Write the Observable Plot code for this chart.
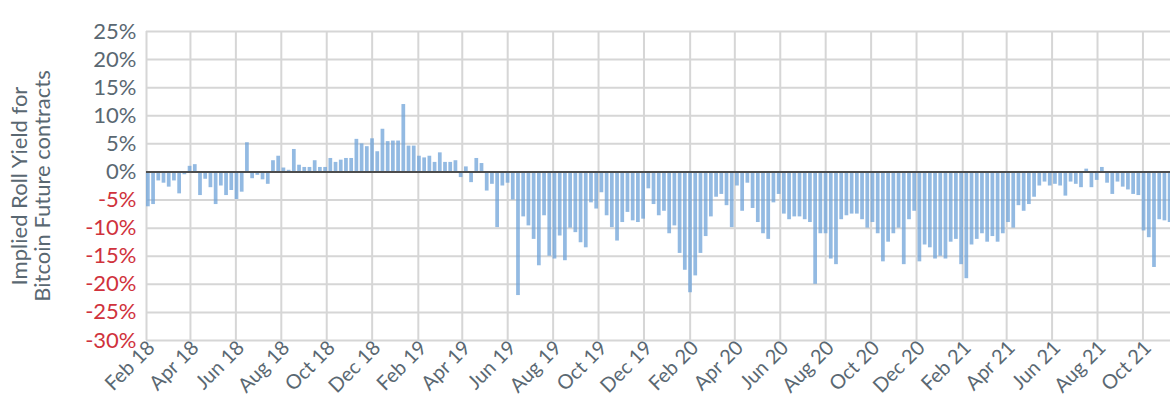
<!DOCTYPE html>
<html>
<head>
<meta charset="utf-8">
<script src="https://cdn.jsdelivr.net/npm/d3@7"></script>
<script src="https://cdn.jsdelivr.net/npm/@observablehq/plot@0.6"></script>
<style>
  html, body { margin: 0; padding: 0; background: #fff; }
  #chart { width: 1170px; height: 400px; }
</style>
</head>
<body>
<div id="chart"></div>
<script>
// Weekly implied roll yield (%), one value per week starting Thu 1 Feb 2018
const weekStart = "2018-02-01";
const weekEnd = "2021-11-05";
const rollYield = [
  -6.2, -5.8, -1.6, -2.0, -2.7, -1.6, -3.9, -0.5, 1.0, 1.3,
  -4.2, -1.3, -2.8, -5.8, -2.5, -4.2, -3.3, -4.9, -3.6, 5.2,
  -1.2, -0.6, -1.4, -2.2, 2.0, 2.8, 0.7, 0.3, 4.0, 1.2,
  0.8, 0.8, 2.0, 0.8, 0.8, 2.4, 1.7, 2.1, 2.4, 2.4,
  5.8, 5.0, 4.5, 5.9, 3.6, 7.6, 5.4, 5.5, 5.5, 12.0,
  4.6, 4.6, 2.8, 2.5, 2.8, 1.7, 3.4, 1.7, 1.7, 2.0,
  -1.0, 0.9, -1.9, 2.4, 1.5, -3.4, -2.2, -9.9, -2.5, -2.0,
  -5.0, -22.0, -8.0, -9.6, -12.0, -16.7, -7.8, -15.0, -15.5, -11.4,
  -15.8, -10.0, -10.8, -12.6, -13.5, -5.5, -6.6, -3.7, -7.8, -9.9,
  -12.3, -9.0, -7.2, -8.7, -9.0, -8.4, -3.0, -5.8, -7.8, -7.0,
  -11.0, -9.6, -14.5, -17.5, -21.5, -18.5, -14.5, -11.5, -8.0, -4.5,
  -4.0, -6.0, -9.9, -2.5, -7.0, -2.0, -6.5, -9.0, -11.0, -12.0,
  -5.5, -4.0, -7.5, -8.5, -8.0, -8.0, -8.5, -9.0, -20.0, -11.0,
  -11.0, -15.5, -16.5, -8.5, -7.8, -7.5, -7.5, -8.5, -10.0, -9.0,
  -11.0, -16.0, -12.5, -11.0, -10.0, -16.5, -8.5, -7.0, -16.0, -13.0,
  -13.5, -15.5, -15.0, -15.5, -12.5, -12.0, -16.5, -19.0, -13.0, -12.0,
  -11.0, -12.5, -11.5, -12.5, -11.0, -9.0, -10.0, -6.0, -7.0, -5.8,
  -4.5, -2.5, -1.8, -2.5, -2.2, -2.5, -4.3, -1.8, -2.2, -2.8,
  0.5, -2.8, -1.5, 0.8, -2.0, -4.0, -1.8, -2.7, -3.2, -4.0,
  -4.2, -10.5, -11.7, -17.0, -8.5, -8.7, -9.0
];

const xTickDates = [
  "2018-02-01","2018-04-01","2018-06-01","2018-08-01","2018-10-01","2018-12-01",
  "2019-02-01","2019-04-01","2019-06-01","2019-08-01","2019-10-01","2019-12-01",
  "2020-02-01","2020-04-01","2020-06-01","2020-08-01","2020-10-01","2020-12-01",
  "2021-02-01","2021-04-01","2021-06-01","2021-08-01","2021-10-01"
];
const yTicksPos = [0, 5, 10, 15, 20, 25];
const yTicksNeg = [-5, -10, -15, -20, -25, -30];
const yTitle = "Implied Roll Yield for\nBitcoin Future contracts";

const weeks = d3.utcThursday.range(new Date(weekStart), new Date(weekEnd));
const data = rollYield.map((v, i) => ({date: weeks[i], value: v}));
const xTicks = xTickDates.map(s => new Date(s));

const gray = "#5a6872";
const red = "#d0323c";
const gridColor = "#d6d6d6";
const font = "Lato, 'Open Sans', sans-serif";

const chart = Plot.plot({
  width: 1170,
  height: 400,
  marginLeft: 146,
  marginRight: 0,
  marginTop: 31,
  marginBottom: 60,
  style: {fontFamily: font, fontSize: "22px", background: "#fff"},
  x: {type: "utc", domain: [new Date("2018-02-01"), new Date("2021-11-07")]},
  y: {domain: [-30, 25]},
  marks: [
    Plot.gridX(xTicks, {stroke: gridColor, strokeOpacity: 1, strokeWidth: 2}),
    Plot.gridY([...yTicksNeg, ...yTicksPos], {stroke: gridColor, strokeOpacity: 1, strokeWidth: 2}),
    Plot.rectY(data, {
      x1: "date",
      x2: d => d3.utcDay.offset(d.date, 5),
      y: "value",
      fill: "#6fa3d8",
      fillOpacity: 0.75
    }),
    Plot.ruleY([0], {stroke: "#4d4d4d", strokeWidth: 2}),
    Plot.axisY(yTicksPos, {tickSize: 0, tickPadding: 10, fill: gray, fontSize: 22, tickFormat: d => d + "%", label: null}),
    Plot.axisY(yTicksNeg, {tickSize: 0, tickPadding: 10, fill: red, fontSize: 22, tickFormat: d => d + "%", label: null}),
    Plot.axisX(xTicks, {tickSize: 0, tickPadding: 4, tickRotate: -45, dx: 5, fill: gray, fontSize: 20, tickFormat: d3.utcFormat("%b %y"), label: null}),
    Plot.text([yTitle], {
      frameAnchor: "left",
      dx: -115,
      rotate: -90,
      fill: gray,
      fontSize: 22,
      lineHeight: 1.05,
      textAnchor: "middle"
    })
  ]
});
document.getElementById("chart").append(chart);
</script>
</body>
</html>
